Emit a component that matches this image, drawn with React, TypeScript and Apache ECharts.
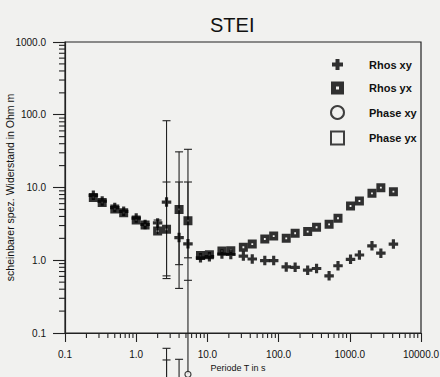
import React, { useEffect, useRef } from "react";
import * as echarts from "echarts";

// Periods (s)
const periods = [0.25, 0.333, 0.5, 0.667, 1, 1.333, 2, 2.667, 4, 5.333, 8, 10.67, 16, 21.33, 32, 42.67, 64, 85.33, 128, 170.7, 256, 341.3, 512, 682.7, 1024, 1365, 2048, 2731, 4096];
// apparent resistivity (Ohm m)
const rhosXY = [7.8, 6.5, 5.3, 4.7, 3.8, 3.1, 3.26, 6.3, 2.05, 1.68, 1.08, 1.12, 1.22, 1.2, 1.14, 1.04, 0.99, 0.99, 0.81, 0.8, 0.73, 0.77, 0.61, 0.84, 1.03, 1.18, 1.58, 1.25, 1.67];
const rhosYX = [7.3, 6.2, 5.06, 4.5, 3.57, 3.05, 2.52, 2.66, 5.0, 3.5, 1.16, 1.19, 1.34, 1.35, 1.51, 1.67, 1.96, 2.15, 2.0, 2.35, 2.48, 2.84, 3.12, 3.78, 5.57, 6.52, 8.32, 9.93, 8.75];
// error bars: [period, lower, upper, lowerCap, upperCap]
const errRhosXY = [
  [2.667, 0.56, 82.8, 1, 1],
  [4, 0.41, 11.9, 1, 1],
  [5.333, 1.08, 11.9, 1, 1],
];
const errRhosYX = [
  [2.0, 2.3, 3.57, 0, 1],
  [2.667, 0.61, 11.9, 1, 1],
  [4, 0.87, 30.9, 1, 1],
  [5.333, 0.53, 33.5, 1, 1],
];
// phase panel (below, mostly cut off)
const phaseXYPeriods = [5.333];
const phaseXYValues = [0.027];
const errPhase = [
  [2.667, 0.015, 0.0616, 0, 1],
  [2.667, 0.015, 0.0426, 0, 1],
  [4, 0.015, 0.0435, 0, 1],
  [5.333, 0.027, 0.53, 0, 0],
];
const xTickLabels = ["0.1", "1.0", "10.0", "100.0", "1000.0", "10000.0"];
const yTickLabels = ["0.1", "1.0", "10.0", "100.0", "1000.0"];
const minorMantissas = [2, 3, 4, 5, 6, 7, 8, 9];
const xDecades = [0.1, 1, 10, 100, 1000];
const yDecades = [0.1, 1, 10, 100];

const FONT = "'Liberation Sans', Arial, Helvetica, sans-serif";
const INK = "#111111";
const MARK = "#000000";
const BG = "#f1f1ef";

const crossPath = "path://M3,0H6V3H9V6H6V9H3V6H0V3H3Z";
const squarePath = "path://M0,0H10V10H0ZM4,4V6H6V4Z";
const legendCross = "path://M0,0M13,13M4.5,1H8.5V4.5H12V8.5H8.5V12H4.5V8.5H1V4.5H4.5Z";
const legendSquare = "path://M0,0H13V13H0ZM5,5V8H8V5Z";

function labelFor(list: string[], v: number) {
  const i = Math.round(Math.log10(v)) + 1;
  return list[i] ?? "";
}

export default function App() {
  const ref = useRef<HTMLDivElement>(null);
  useEffect(() => {
    document.body.style.margin = "0";
    const chart = echarts.init(ref.current!, null, { renderer: "svg" });
    const lineStyle = { stroke: "#222222", lineWidth: 1.1 };
    const errRender = (params: any, api: any) => {
      const x = api.value(0);
      const lo = api.value(1);
      const hi = api.value(2);
      const capLo = api.value(3);
      const capHi = api.value(4);
      const p1 = api.coord([x, hi]);
      const p2 = api.coord([x, lo]);
      const children: any[] = [
        { type: "line", shape: { x1: p1[0], y1: p1[1], x2: p2[0], y2: p2[1] }, style: lineStyle },
      ];
      if (capHi) children.push({ type: "line", shape: { x1: p1[0] - 4, y1: p1[1], x2: p1[0] + 4, y2: p1[1] }, style: lineStyle });
      if (capLo) children.push({ type: "line", shape: { x1: p2[0] - 4, y1: p2[1], x2: p2[0] + 4, y2: p2[1] }, style: lineStyle });
      return { type: "group", children };
    };
    // [value, axisFlag(0 = x axis, 1 = y axis)]
    const minorTicks = [
      ...xDecades.flatMap((d) => minorMantissas.map((m) => [m * d, 0])),
      ...yDecades.flatMap((d) => minorMantissas.map((m) => [m * d, 1])),
    ];
    const tickStyle = { stroke: "#222", lineWidth: 1.1 };

    chart.setOption({
      animation: false,
      backgroundColor: BG,
      textStyle: { fontFamily: FONT },
      title: {
        text: "STEI",
        left: 205,
        top: 10,
        textStyle: { fontFamily: FONT, fontSize: 20, fontWeight: "normal", color: INK },
      },
      legend: {
        orient: "vertical",
        left: 325,
        top: 53,
        itemWidth: 13,
        itemHeight: 13,
        itemGap: 10.5,
        textStyle: { fontFamily: FONT, fontSize: 11, fontWeight: "bold", color: INK, padding: [0, 0, 0, 20] },
        data: [
          { name: "Rhos xy", icon: legendCross },
          { name: "Rhos yx", icon: legendSquare },
          { name: "Phase xy", icon: "circle" },
          { name: "Phase yx", icon: "rect" },
        ],
      },
      grid: {
        left: 65,
        top: 42,
        right: 19,
        bottom: 44,
        outerBoundsMode: "none",
        containLabel: false,
        show: true,
        borderColor: "#222",
        borderWidth: 1.2,
        backgroundColor: "transparent",
      },
      xAxis: {
        type: "log",
        logBase: 10,
        min: 0.1,
        max: 10000,
        interval: 1,
        name: "Periode T in s",
        nameLocation: "middle",
        nameGap: 30,
        nameMoveOverlap: false,
        nameTextStyle: { fontFamily: FONT, fontSize: 9, color: INK, padding: [0, 10, 0, 0] },
        axisLine: { lineStyle: { color: "#222", width: 1.2 } },
        axisTick: { show: true, inside: false, length: 9, lineStyle: { color: "#222", width: 1.1 } },
        axisLabel: {
          margin: 16,
          fontFamily: FONT,
          fontSize: 10,
          color: INK,
          showMinLabel: true,
          showMaxLabel: true,
          formatter: (v: number) => labelFor(xTickLabels, v),
        },
        splitLine: { show: false },
      },
      yAxis: {
        type: "log",
        logBase: 10,
        min: 0.1,
        max: 1000,
        interval: 1,
        name: "scheinbarer spez. Widerstand in Ohm m",
        nameLocation: "middle",
        nameGap: 50,
        nameMoveOverlap: false,
        nameTextStyle: { fontFamily: FONT, fontSize: 10.5, color: INK },
        axisLine: { lineStyle: { color: "#222", width: 1.2 } },
        axisTick: { show: true, inside: false, length: 12, lineStyle: { color: "#222", width: 1.1 } },
        axisLabel: {
          margin: 19,
          fontFamily: FONT,
          fontSize: 10,
          color: INK,
          showMinLabel: true,
          showMaxLabel: true,
          formatter: (v: number) => labelFor(yTickLabels, v),
        },
        splitLine: { show: false },
      },
      series: [
        {
          name: "minorTicks",
          type: "custom",
          clip: false,
          silent: true,
          z: 3,
          data: minorTicks,
          renderItem: (params: any, api: any) => {
            const v = api.value(0);
            const onY = api.value(1);
            const p = onY ? api.coord([0.1, v]) : api.coord([v, 0.1]);
            const shape = onY
              ? { x1: p[0] - 6, y1: p[1], x2: p[0], y2: p[1] }
              : { x1: p[0], y1: p[1], x2: p[0], y2: p[1] + 5 };
            return { type: "group", children: [{ type: "line", shape, style: tickStyle }] };
          },
        },
        { name: "errXY", type: "custom", clip: false, silent: true, data: errRhosXY, renderItem: errRender },
        { name: "errYX", type: "custom", clip: false, silent: true, data: errRhosYX, renderItem: errRender },
        { name: "errPhase", type: "custom", clip: false, silent: true, data: errPhase, renderItem: errRender },
        {
          name: "Rhos xy",
          type: "scatter",
          symbol: crossPath,
          symbolSize: 9.5,
          itemStyle: { color: MARK },
          data: periods.map((p, i) => [p, rhosXY[i]]),
          z: 5,
        },
        {
          name: "Rhos yx",
          type: "scatter",
          symbol: squarePath,
          symbolSize: 9,
          itemStyle: { color: MARK },
          data: periods.map((p, i) => [p, rhosYX[i]]),
          z: 4,
        },
        {
          name: "Phase xy",
          type: "scatter",
          symbol: "circle",
          symbolSize: 6,
          clip: false,
          itemStyle: { color: BG, borderColor: INK, borderWidth: 1.2 },
          data: phaseXYPeriods.map((p, i) => [p, phaseXYValues[i]]),
          z: 5,
        },
        {
          name: "Phase yx",
          type: "scatter",
          symbol: "rect",
          symbolSize: 6,
          itemStyle: { color: BG, borderColor: INK, borderWidth: 1.2 },
          data: [],
        },
      ],
    });
    return () => chart.dispose();
  }, []);
  return <div ref={ref} style={{ position: "fixed", left: 0, top: 0, width: 440, height: 377 }} />;
}
